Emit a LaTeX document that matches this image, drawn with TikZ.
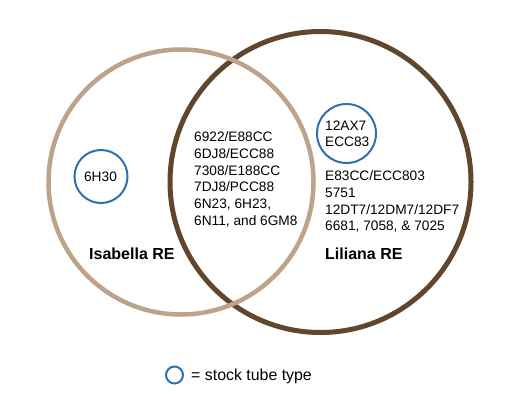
\documentclass[tikz,border=0pt]{standalone}
\usepackage{fontspec}
\setmainfont{Liberation Sans}
\definecolor{tan}{RGB}{187,163,140}
\definecolor{darkbrown}{RGB}{96,70,44}
\definecolor{tubeblue}{RGB}{46,112,178}
\begin{document}
\begin{tikzpicture}[x=1pt,y=-1pt,
  setcircle/.style={line width=4.5pt},
  stockring/.style={draw=tubeblue,line width=2pt,circle},
  body/.style={inner sep=0pt,align=left,font=\fontsize{13.7}{16.7}\selectfont},
  setlabel/.style={inner sep=0pt,font=\fontsize{16}{19}\selectfont\bfseries},
  legendtext/.style={inner sep=0pt,font=\fontsize{15.9}{19}\selectfont}]
\useasboundingbox (0,0) rectangle (526,409);
\draw[setcircle,draw=darkbrown,line width=5pt] (320.5,182) circle (150.5);
\draw[setcircle,draw=tan] (181,182) circle (132.5);
\node[body,anchor=north west] (mid) at (194,131.5) {6922/E88CC\\6DJ8/ECC88\\7308/E188CC\\7DJ8/PCC88\\6N23, 6H23,\\6N11, and 6GM8};
\node[body,anchor=north west] (right) at (325,170.5) {E83CC/ECC803\\5751\\12DT7/12DM7/12DF7\\6681, 7058, \& 7025};
\draw[draw=tubeblue,line width=2pt] (346.5,133.5) circle (29.5);
\node[body,anchor=north west] (ax7) at (325,120.5) {12AX7\\ECC83};
\draw[draw=tubeblue,line width=2pt] (101,176.5) circle (26.5);
\node[body,anchor=center] (h30) at (100.5,176.5) {6H30};
\node[setlabel,anchor=base west] (isa) at (89,259) {Isabella RE};
\node[setlabel,anchor=base west] (lil) at (325,259) {Liliana RE};
\draw[draw=tubeblue,line width=2pt] (174.5,375) circle (8.5);
\node[legendtext,anchor=base west] (leg) at (191,380.5) {= stock tube type};
\end{tikzpicture}
\end{document}
